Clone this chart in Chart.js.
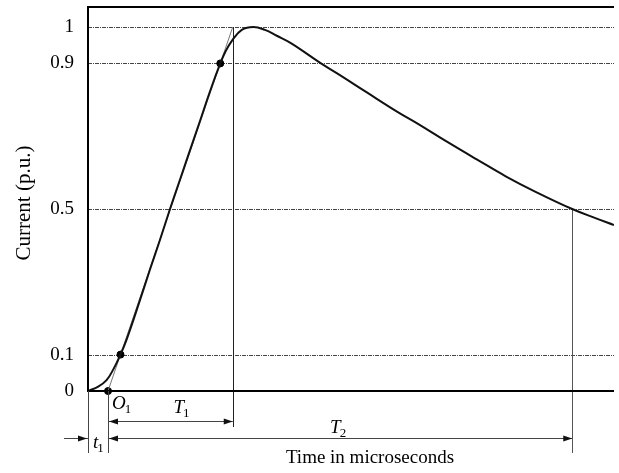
<!DOCTYPE html>
<html>
<head>
<meta charset="utf-8">
<script src="https://cdn.jsdelivr.net/npm/chart.js@4.4.1/dist/chart.umd.min.js"></script>
<style>
  html, body { margin: 0; padding: 0; background: #fff; }
  #wrap { width: 619px; height: 473px; }
</style>
</head>
<body>
<div id="wrap"><canvas id="impulseChart" width="619" height="473"></canvas></div>
<script>
// impulse current waveform
const times = [0, 0.66, 1.2, 1.62, 2.1, 2.5, 3.3, 4.0, 4.65, 5.3, 5.9, 6.5, 7.2, 7.9, 8.55, 8.88, 9.3, 9.94,
    10.69, 11.44, 12.2, 13.14, 15.06, 16.13, 18.0, 20.0, 21.25, 23.2, 25.1, 27.0, 28.9, 31.3, 32.8, 34.0];
const current = [0, 0.012, 0.03, 0.058, 0.10, 0.142, 0.242, 0.333, 0.415, 0.50, 0.575, 0.65, 0.737, 0.825,
    0.90, 0.932, 0.962, 0.992, 1.0, 0.992, 0.976, 0.955, 0.90, 0.872, 0.821, 0.767, 0.736, 0.685, 0.637,
    0.590, 0.548, 0.50, 0.475, 0.456];

// y axis
const yTicks = [0, 0.1, 0.5, 0.9, 1];
const yTickLabels = ['0', '0.1', '0.5', '0.9', '1'];
const refLevels = [0.1, 0.5, 0.9, 1];

// 10% and 90% points on the front, and the 50% point on the tail
const markTimes = [2.1, 8.55];
const markLevels = [0.1, 0.9];
const halfTime = 31.3;

// virtual origin O1 and end of front time T1 from the line through the 10/90% points
const frontSlope = (markLevels[1] - markLevels[0]) / (markTimes[1] - markTimes[0]);
const originTime = markTimes[0] - markLevels[0] / frontSlope;
const frontEnd = originTime + 1 / frontSlope;

const SERIF = '"Liberation Serif", "Times New Roman", serif';

function arrowHead(ctx, x, y, dir) {
    ctx.beginPath();
    ctx.moveTo(x, y);
    ctx.lineTo(x - dir * 9, y - 3);
    ctx.lineTo(x - dir * 9, y + 3);
    ctx.closePath();
    ctx.fill();
}

function subLabel(ctx, main, sub, x, y) {
    ctx.font = 'italic 19px ' + SERIF;
    ctx.textAlign = 'left';
    ctx.textBaseline = 'alphabetic';
    ctx.fillText(main, x, y);
    const w = ctx.measureText(main).width;
    ctx.font = '13px ' + SERIF;
    ctx.fillText(sub, x + w - 1, y + 4);
}

function vline(ctx, x, y1, y2) {
    ctx.beginPath();
    ctx.moveTo(Math.round(x) + 0.5, y1);
    ctx.lineTo(Math.round(x) + 0.5, y2);
    ctx.stroke();
}

function hline(ctx, x1, x2, y) {
    ctx.beginPath();
    ctx.moveTo(x1, Math.round(y) + 0.5);
    ctx.lineTo(x2, Math.round(y) + 0.5);
    ctx.stroke();
}

const figurePlugin = {
    id: 'figure',
    beforeDatasetsDraw(chart) {
        const { ctx, chartArea: area, scales: { x, y } } = chart;
        ctx.save();
        // dotted reference levels
        ctx.strokeStyle = '#444';
        ctx.lineWidth = 1;
        ctx.setLineDash([4, 1, 1, 1]);
        refLevels.forEach(v => hline(ctx, area.left, area.right, y.getPixelForValue(v)));
        ctx.setLineDash([]);

        // T1 and T2 marker lines
        const y0 = y.getPixelForValue(0);
        ctx.strokeStyle = '#222';
        vline(ctx, x.getPixelForValue(frontEnd), y.getPixelForValue(1), y0 + 36);
        ctx.strokeStyle = '#555';
        vline(ctx, x.getPixelForValue(halfTime), y.getPixelForValue(0.5), y0 + 62);
        ctx.restore();
    },
    afterDatasetsDraw(chart) {
        const { ctx, chartArea: area, scales: { x, y } } = chart;
        const y0 = y.getPixelForValue(0);
        const xO = x.getPixelForValue(originTime);
        const xT1 = x.getPixelForValue(frontEnd);
        const xT2 = x.getPixelForValue(halfTime);
        ctx.save();

        // frame: top, left axis, time axis
        ctx.strokeStyle = '#000';
        ctx.lineWidth = 2;
        ctx.beginPath();
        ctx.moveTo(area.right, area.top);
        ctx.lineTo(area.left, area.top);
        ctx.lineTo(area.left, y0);
        ctx.lineTo(area.right, y0);
        ctx.stroke();

        // lines below the axis
        ctx.lineWidth = 1;
        ctx.strokeStyle = '#444';
        vline(ctx, area.left - 0.5, y0, y0 + 62);
        vline(ctx, xO, y0, y0 + 62);

        // arrows
        ctx.fillStyle = '#111';
        ctx.strokeStyle = '#444';
        const yA1 = y0 + 30, yA2 = y0 + 47;
        hline(ctx, xO, xT1, yA1);
        arrowHead(ctx, xO + 1, Math.round(yA1) + 0.5, -1);
        arrowHead(ctx, xT1, Math.round(yA1) + 0.5, 1);
        hline(ctx, xO, xT2, yA2);
        arrowHead(ctx, xO + 1, Math.round(yA2) + 0.5, -1);
        arrowHead(ctx, xT2, Math.round(yA2) + 0.5, 1);
        hline(ctx, area.left - 24, area.left, yA2);
        arrowHead(ctx, area.left - 1, Math.round(yA2) + 0.5, 1);

        // labels
        ctx.fillStyle = '#000';
        subLabel(ctx, 'O', '1', xO + 4, y0 + 18);
        subLabel(ctx, 'T', '1', (xO + xT1) / 2 + 3, y0 + 22);
        subLabel(ctx, 'T', '2', (xO + xT2) / 2 - 10, y0 + 42);
        subLabel(ctx, 't', '1', area.left + 5, y0 + 57);

        // tick labels
        ctx.font = '19px ' + SERIF;
        ctx.textAlign = 'right';
        ctx.textBaseline = 'middle';
        yTicks.forEach((v, i) => ctx.fillText(yTickLabels[i], area.left - 14, y.getPixelForValue(v)));

        // axis titles
        ctx.textAlign = 'center';
        ctx.textBaseline = 'alphabetic';
        ctx.fillText('Time in microseconds', 370, y0 + 72);
        ctx.save();
        ctx.translate(30, 203);
        ctx.rotate(-Math.PI / 2);
        ctx.font = '21px ' + SERIF;
        ctx.fillText('Current (p.u.)', 0, 0);
        ctx.restore();

        ctx.restore();
    }
};

const ctx = document.getElementById('impulseChart').getContext('2d');

const impulseChart = new Chart(ctx, {
    type: 'line',
    data: {
        datasets: [{
            label: 'Current',
            data: times.map((t, i) => ({ x: t, y: current[i] })),
            borderColor: '#111',
            borderWidth: 2,
            pointRadius: 0,
            tension: 0.4,
            fill: false
        }, {
            label: 'Front line',
            data: [{ x: originTime, y: 0 }, { x: frontEnd, y: 1 }],
            borderColor: '#777',
            borderWidth: 1,
            pointRadius: 0,
            fill: false
        }, {
            label: 'Marks',
            data: [
                { x: markTimes[0], y: markLevels[0] },
                { x: markTimes[1], y: markLevels[1] },
                { x: originTime, y: 0 }
            ],
            showLine: false,
            pointRadius: 3.5,
            pointBackgroundColor: '#000',
            pointBorderColor: '#000',
            clip: false
        }]
    },
    options: {
        responsive: false,
        animation: false,
        devicePixelRatio: 1,
        layout: {
            padding: { left: 88, top: 7, right: 0, bottom: 82 }
        },
        plugins: {
            legend: { display: false },
            tooltip: { enabled: false }
        },
        scales: {
            x: { type: 'linear', min: 0, max: 34, display: false },
            y: { min: 0, max: 1.055, display: false }
        }
    },
    plugins: [figurePlugin]
});
</script>
</body>
</html>
